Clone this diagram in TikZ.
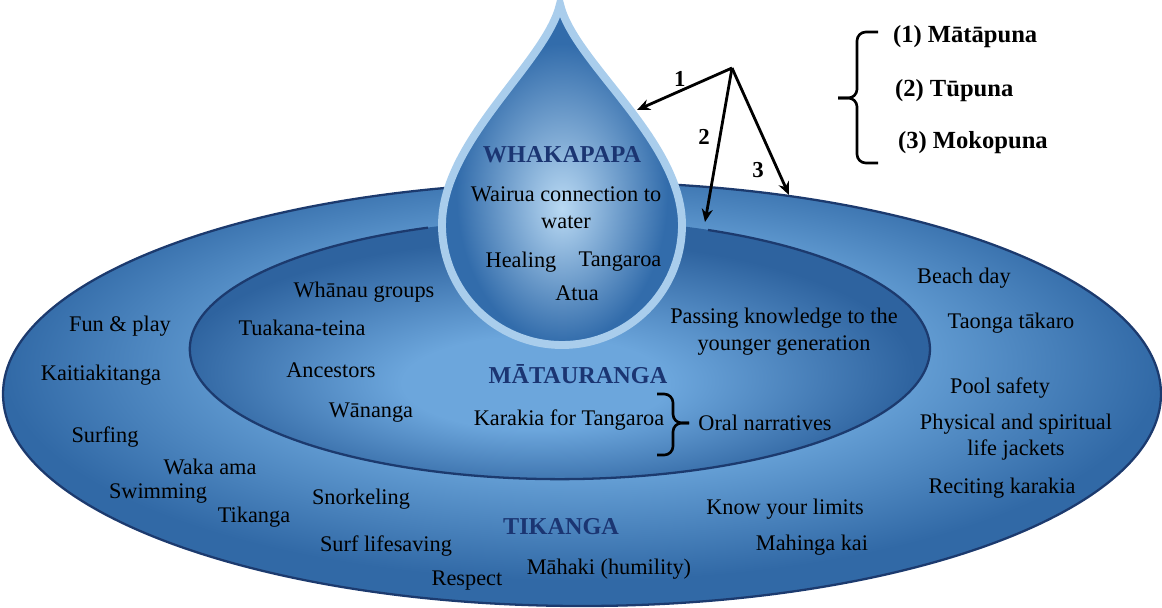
\documentclass[tikz,border=0pt]{standalone}
\usepackage{fontspec}
\setmainfont{Liberation Serif}
\newfontfamily\diagfont{Liberation Serif}
\usepackage{tikz}
\usetikzlibrary{arrows.meta,positioning}

\definecolor{rimline}{HTML}{1C3A6E}
\definecolor{headblue}{HTML}{1B3572}
\definecolor{ringlight}{HTML}{84B9E8}
\definecolor{ringmid}{HTML}{659FD5}
\definecolor{ringdark}{HTML}{3169A6}
\definecolor{corelight}{HTML}{6CA6DC}
\definecolor{coredark}{HTML}{2E639F}
\definecolor{droplight}{HTML}{B9D9F3}
\definecolor{dropdark}{HTML}{326CAB}
\definecolor{dropedge}{HTML}{A9CDEC}

\pgfdeclareradialshading{outerring}{\pgfpoint{0bp}{6bp}}{%
  color(0bp)=(ringlight); color(14bp)=(ringmid); color(25bp)=(ringdark); color(50bp)=(ringdark)}
\pgfdeclareradialshading{innerring}{\pgfpoint{-2bp}{-8bp}}{%
  color(0bp)=(corelight); color(9bp)=(corelight); color(25bp)=(coredark); color(50bp)=(coredark)}
\pgfdeclareradialshading{dropglow}{\pgfpoint{0bp}{-5bp}}{%
  color(0bp)=(droplight); color(22bp)=(dropdark); color(50bp)=(dropdark)}

\begin{document}
\begin{tikzpicture}[
    x=0.02cm, y=-0.02cm,
    txt/.style={font=\diagfont\fontsize{12.7}{15.2}\selectfont, align=center, inner sep=1pt},
    head/.style={font=\diagfont\fontsize{13.8}{16}\selectfont\bfseries, text=headblue, inner sep=1pt},
    key/.style={font=\diagfont\fontsize{14}{17}\selectfont\bfseries, anchor=west, inner sep=1pt},
    num/.style={font=\diagfont\fontsize{13}{15}\selectfont\bfseries, inner sep=1pt},
    arrow/.style={-{Stealth[length=2.6mm, width=2.2mm]}, line width=1.6pt},
    bracket/.style={line width=1.5pt, rounded corners=5pt},
  ]
  \useasboundingbox (0,0) rectangle (1162,608);

  % Outer ring
  \shadedraw[shading=outerring, draw=rimline, line width=1.3pt]
    (582,394) ellipse[x radius=579, y radius=212];

  % Inner ring, its rim left open under the drop
  \shade[shading=innerring] (560,349) ellipse[x radius=370, y radius=130];
  \draw[rimline, line width=1.3pt] (708,230)
    arc[start angle=-66.4, end angle=249.1, x radius=370, y radius=130];

  % Drop
  \shadedraw[shading=dropglow, draw=dropedge, line width=4.5pt]
    (560,4) .. controls (547,62) and (442,140) .. (442,225)
    arc[start angle=180, end angle=0, radius=120]
    .. controls (682,140) and (573,62) .. (560,4) -- cycle;

  % Whakapapa
  \node[head] (whakapapa) at (562,155) {WHAKAPAPA};
  \node[txt] (wairua) at (566,208) {Wairua connection to\\water};
  \node[txt] (healing) at (521,262) {Healing};
  \node[txt] (tangaroa) at (620,262) {Tangaroa};
  \node[txt] (atua) at (577,293) {Atua};

  % Matauranga
  \node[head] (matauranga) at (578,374) {MĀTAURANGA};
  \node[txt] (whanau) at (364,292) {Whānau groups};
  \node[txt] (tuakana) at (302,328) {Tuakana-teina};
  \node[txt] (ancestors) at (331,370) {Ancestors};
  \node[txt] (wananga) at (371,413) {Wānanga};
  \node[txt] (passing) at (784,332) {Passing knowledge to the\\younger generation};
  \node[txt] (karakia) at (569,420) {Karakia for Tangaroa};
  \node[txt] (oral) at (765,423) {Oral narratives};
  \draw[bracket] (657,394) -| (673,423) -- (689,423);
  \draw[bracket] (689,423) -- (673,423) |- (657,455);

  % Tikanga
  \node[head] (tikanga) at (561,527) {TIKANGA};
  \node[txt] (funplay) at (120,326) {Fun \& play};
  \node[txt] (kaitiaki) at (101,375) {Kaitiakitanga};
  \node[txt] (surfing) at (105,437) {Surfing};
  \node[txt] (waka) at (210,467) {Waka ama};
  \node[txt] (swimming) at (158,494) {Swimming};
  \node[txt] (tikangatxt) at (254,517) {Tikanga};
  \node[txt] (snorkel) at (361,499) {Snorkeling};
  \node[txt] (lifesave) at (386,546) {Surf lifesaving};
  \node[txt] (respect) at (467,581) {Respect};
  \node[txt] (mahaki) at (609,569) {Māhaki (humility)};
  \node[txt] (limits) at (785,509) {Know your limits};
  \node[txt] (mahinga) at (812,545) {Mahinga kai};
  \node[txt] (beach) at (964,278) {Beach day};
  \node[txt] (taonga) at (1011,323) {Taonga tākaro};
  \node[txt] (pool) at (1000,388) {Pool safety};
  \node[txt] (jackets) at (1016,437) {Physical and spiritual\\life jackets};
  \node[txt] (reciting) at (1002,488) {Reciting karakia};

  % Arrows to the three layers
  \coordinate (hub) at (732,68);
  \coordinate (tip1) at (637,110);
  \coordinate (tip2) at (705,222);
  \coordinate (tip3) at (789,195);
  \draw[arrow] (hub) -- (tip1) node[num, pos=0.55, above=1pt] {1};
  \draw[arrow] (hub) -- (tip2) node[num, pos=0.45, left=4pt] {2};
  \draw[arrow] (hub) -- (tip3) node[num, pos=0.8, left=6pt] {3};

  % Key
  \node[key] (key1) at (891,37) {(1) Mātāpuna};
  \node[key] (key2) at (893,91) {(2) Tūpuna};
  \node[key] (key3) at (896,143) {(3) Mokopuna};
  \draw[bracket] (878,32) -| (857,98) -- (838,98);
  \draw[bracket] (838,98) -- (857,98) |- (878,163);
\end{tikzpicture}
\end{document}
